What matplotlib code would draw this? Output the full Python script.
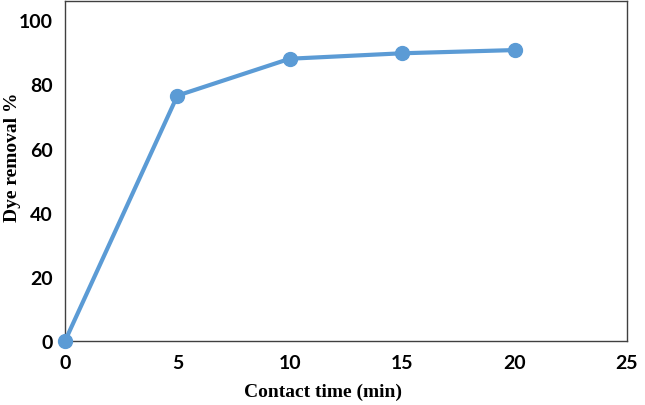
import matplotlib
matplotlib.use("Agg")
import matplotlib.pyplot as plt

# contact time (min) vs dye removal (%)
time_min = [0, 5, 10, 15, 20]
removal_pct = [0, 76.5, 88.0, 89.7, 90.7]
x_ticks = [0, 5, 10, 15, 20, 25]
y_ticks = [0, 20, 40, 60, 80, 100]

blue = "#5B9BD5"
tick_font = dict(family="Lato", weight="bold", size=14)
label_font = dict(family="Liberation Serif", weight="bold", size=14)

fig = plt.figure(figsize=(6.45, 4.06), dpi=100)
ax = fig.add_axes([0.1008, 0.1576, 0.8712, 0.8375])

ax.plot(time_min, removal_pct, color=blue, lw=3, marker="o", ms=10,
        clip_on=False, zorder=3)

ax.set_xlim(0, 25)
ax.set_ylim(0, 106)
ax.set_xticks(x_ticks)
ax.set_yticks(y_ticks)
ax.set_xticklabels([str(v) for v in x_ticks], fontdict=tick_font)
ax.set_yticklabels([str(v) for v in y_ticks], fontdict=tick_font)
ax.tick_params(length=0)
ax.tick_params(axis="x", pad=9)
ax.tick_params(axis="y", pad=9)

for s in ax.spines.values():
    s.set_color("#404040")
    s.set_linewidth(1.0)

ax.set_xlabel("Contact time (min)", fontdict=label_font)
ax.set_ylabel("Dye removal %", fontdict=label_font)
# labels sit a bit off-centre in the original
ax.xaxis.set_label_coords(0.459, -0.122)
ax.yaxis.set_label_coords(-0.078, 0.544)

fig.savefig("out.png", dpi=100)
